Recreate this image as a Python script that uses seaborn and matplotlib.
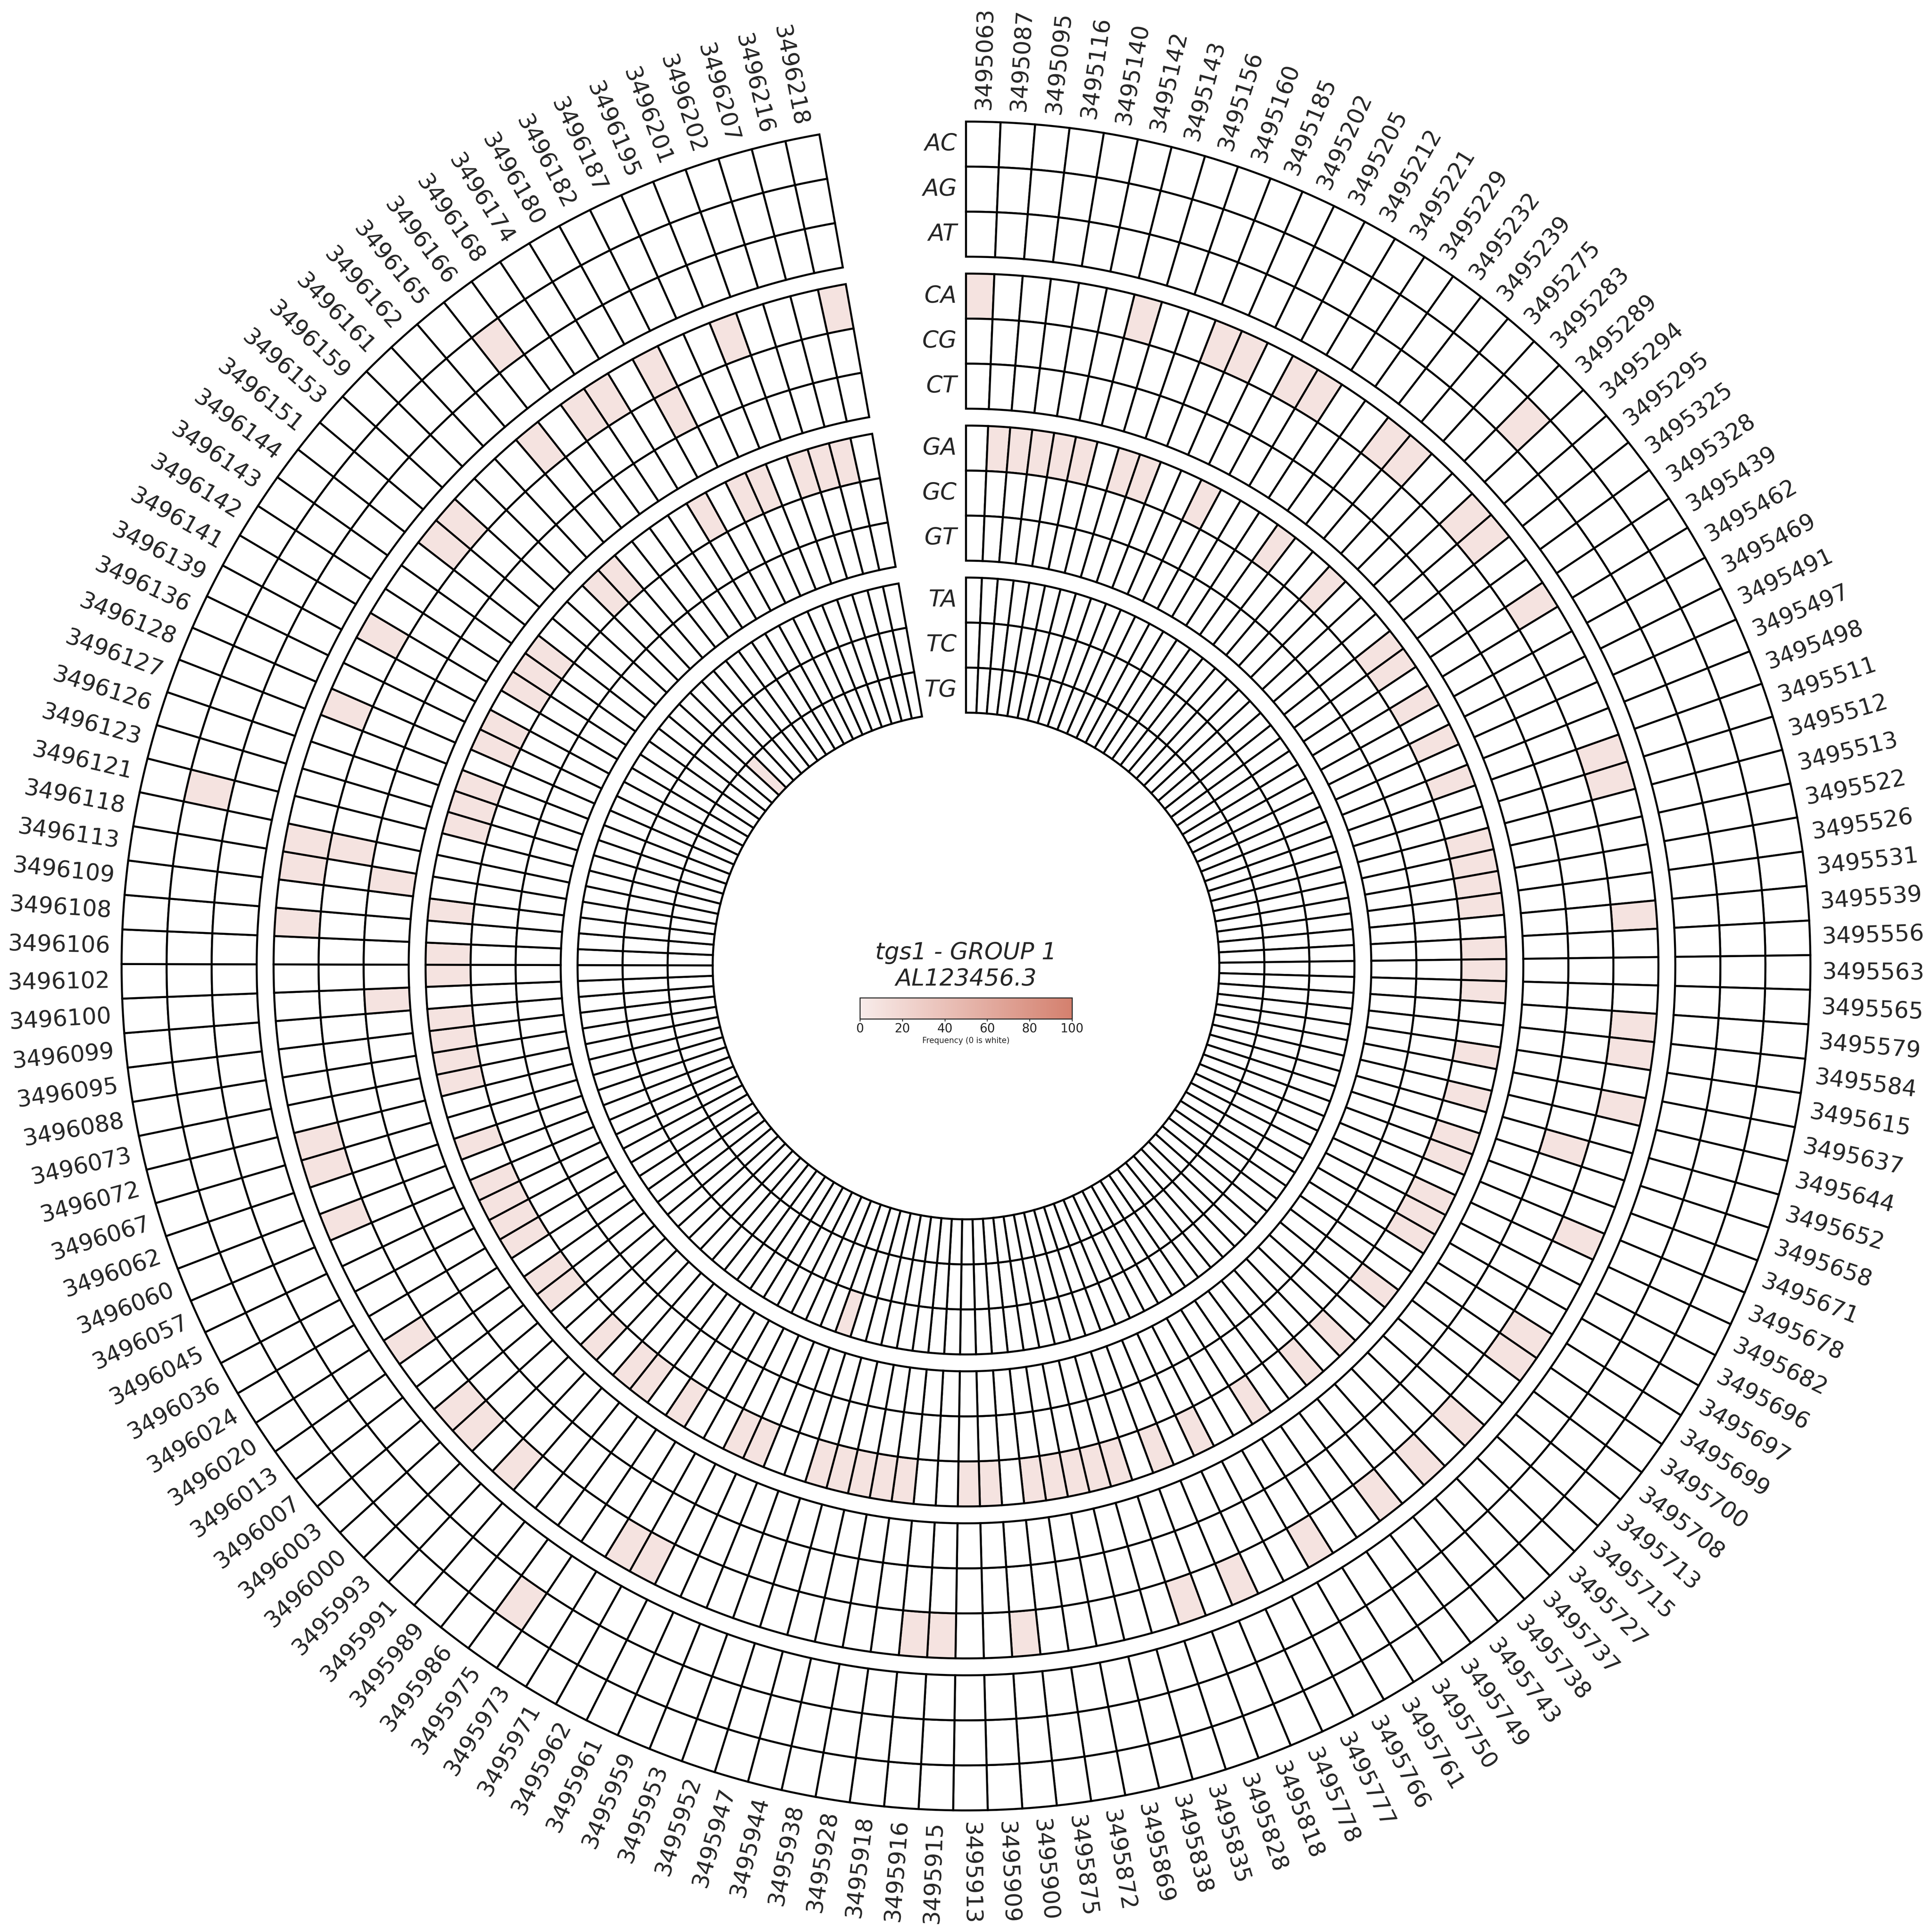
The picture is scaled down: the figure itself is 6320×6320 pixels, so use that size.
import numpy as np
import pandas as pd
import matplotlib
matplotlib.use("Agg")
import matplotlib.pyplot as plt
import matplotlib.transforms as mtransforms
from matplotlib.colors import Normalize
import seaborn as sns

# genomic positions, clockwise from 12 o'clock
positions = [
    3495063, 3495087, 3495095, 3495116, 3495140, 3495142, 3495143, 3495156, 3495160, 3495185,
    3495202, 3495205, 3495212, 3495221, 3495229, 3495232, 3495239, 3495275, 3495283, 3495289,
    3495294, 3495295, 3495325, 3495328, 3495439, 3495462, 3495469, 3495491, 3495497, 3495498,
    3495511, 3495512, 3495513, 3495522, 3495526, 3495531, 3495539, 3495556, 3495563, 3495565,
    3495579, 3495584, 3495615, 3495637, 3495644, 3495652, 3495658, 3495671, 3495678, 3495682,
    3495696, 3495697, 3495699, 3495700, 3495708, 3495713, 3495715, 3495727, 3495737, 3495738,
    3495743, 3495749, 3495750, 3495761, 3495766, 3495777, 3495778, 3495818, 3495828, 3495835,
    3495838, 3495869, 3495872, 3495875, 3495900, 3495909, 3495913, 3495915, 3495916, 3495918,
    3495928, 3495938, 3495944, 3495947, 3495952, 3495953, 3495959, 3495961, 3495962, 3495971,
    3495973, 3495975, 3495986, 3495989, 3495991, 3495993, 3496000, 3496003, 3496007, 3496013,
    3496020, 3496024, 3496036, 3496045, 3496057, 3496060, 3496062, 3496067, 3496072, 3496073,
    3496088, 3496095, 3496099, 3496100, 3496102, 3496106, 3496108, 3496109, 3496113, 3496118,
    3496121, 3496123, 3496126, 3496127, 3496128, 3496136, 3496139, 3496141, 3496142, 3496143,
    3496144, 3496151, 3496153, 3496159, 3496161, 3496162, 3496165, 3496166, 3496168, 3496174,
    3496180, 3496182, 3496187, 3496195, 3496201, 3496202, 3496207, 3496216, 3496218,
]

# substitutions, one ring each (grouped by reference base, outer to inner)
substitutions = ["AC", "AG", "AT", "CA", "CG", "CT", "GA", "GC", "GT", "TA", "TC", "TG"]

# column numbers (1 = first position) where the substitution was seen
ac_hits = []
ag_hits = [20, 92, 121, 138]
at_hits = []
ca_hits = [1, 7, 10, 11, 13, 14, 17, 18, 21, 22, 25, 31, 32, 37, 41, 42, 44, 49, 53, 54,
           57, 59, 61, 64, 67, 69, 75, 78, 79, 89, 90, 95, 97, 98, 101, 106, 108, 109, 117,
           119, 120, 125, 128, 132, 133, 137, 139, 140, 142, 145, 149]
cg_hits = [46, 120, 142]
ct_hits = [114, 119]
ga_hits = [2, 3, 4, 5, 6, 8, 9, 12, 16, 19, 23, 24, 26, 28, 30, 33, 34, 35, 36, 38, 39, 40,
           43, 45, 47, 48, 50, 51, 52, 55, 58, 60, 63, 66, 68, 70, 71, 72, 73, 74, 76, 77,
           80, 81, 82, 83, 84, 87, 88, 91, 93, 94, 96, 99, 100, 102, 103, 104, 105, 107,
           110, 111, 112, 113, 115, 116, 118, 122, 123, 124, 126, 127, 129, 130, 131, 135,
           136, 141, 143, 144, 146, 147, 148]
gc_hits = []
gt_hits = []
ta_hits = [85]
tc_hits = []
tg_hits = [134]

hit_freq = 8.3  # frequency (%) of every non-zero cell

title = "tgs1 - GROUP 1\nAL123456.3"


def build_matrix():
    hits = [ac_hits, ag_hits, at_hits, ca_hits, cg_hits, ct_hits,
            ga_hits, gc_hits, gt_hits, ta_hits, tc_hits, tg_hits]
    df = pd.DataFrame(0.0, index=substitutions, columns=positions)
    for row, cols in enumerate(hits):
        for c in cols:
            df.iloc[row, c - 1] = hit_freq
    return df


def plot_circle(df):
    sns.set_style("white")
    plt.rcParams["font.family"] = ["DejaVu Sans"]

    fig = plt.figure(figsize=(16, 16))
    ax = fig.add_axes([0, 0, 1, 1], projection="polar")
    ax.set_theta_zero_location("N")
    ax.set_theta_direction(-1)
    ax.set_ylim(0, 114.4)
    ax.axis("off")

    cmap = sns.blend_palette(["#f8ecea", "#d4806e"], as_cmap=True)
    norm = Normalize(0, 100)

    n = len(positions)
    width = np.deg2rad(350) / n
    theta = (np.arange(n) + 0.5) * width

    track_tops = [100, 82, 64, 46]
    row_h = 16 / 3
    for i, sub in enumerate(substitutions):
        top = track_tops[i // 3] - (i % 3) * row_h
        vals = df.loc[sub].values
        colors = [cmap(norm(v)) if v > 0 else "white" for v in vals]
        ax.bar(theta, row_h, width=width, bottom=top - row_h, color=colors,
               edgecolor="black", linewidth=1.2, align="center")

        # row label left of the first column
        off = mtransforms.offset_copy(ax.transData, fig=fig, x=-5.5, y=0, units="points")
        ax.text(0, top - row_h / 2, sub, transform=off, ha="right", va="center",
                fontsize=14, style="italic")

    # position labels around the outside
    for t, lab in zip(theta, positions):
        deg = np.rad2deg(t)
        if deg <= 180:
            rot, ha = 90 - deg, "left"
        else:
            rot, ha = 270 - deg, "right"
        ax.text(t, 101.4, str(lab), rotation=rot, rotation_mode="anchor",
                ha=ha, va="center", fontsize=13.7)

    fig.text(0.5, 0.5, title, ha="center", va="center", fontsize=14, style="italic")

    cax = fig.add_axes([0.4451, 0.4726, 0.1098, 0.0109])
    sm = plt.cm.ScalarMappable(norm=norm, cmap=cmap)
    cb = fig.colorbar(sm, cax=cax, orientation="horizontal", ticks=[0, 20, 40, 60, 80, 100])
    cb.outline.set_linewidth(0.6)
    cax.tick_params(labelsize=7.3, length=1.5, width=0.5, pad=1)
    cb.set_label("Frequency (0 is white)", fontsize=4.7, labelpad=1)

    # 6320 px square keeps the file below the reader's pixel limit
    fig.savefig("out.png", dpi=395, facecolor="white")


def main():
    df = build_matrix()
    plot_circle(df)


if __name__ == "__main__":
    main()
